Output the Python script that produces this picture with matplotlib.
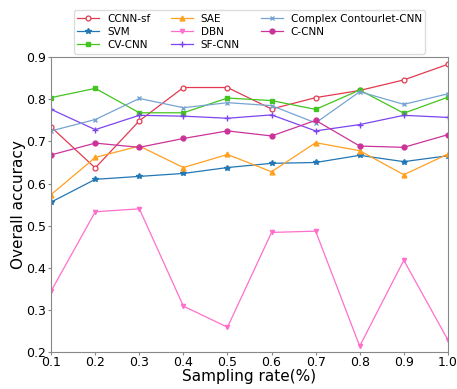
import numpy as np
import matplotlib
matplotlib.use('Agg')
import matplotlib.pyplot as plt

# Taxa de amostragem
taxas = [0.1, 0.2, 0.3, 0.4, 0.5, 0.6, 0.7, 0.8, 0.9, 1.0]
rotulos_x = ['0.1', '0.2', '0.3', '0.4', '0.5', '0.6', '0.7', '0.8', '0.9', '1.0']
ticks_y = [0.2, 0.3, 0.4, 0.5, 0.6, 0.7, 0.8, 0.9]

# Acurácia de cada modelo
ccnn_sf = [0.734, 0.637, 0.749, 0.828, 0.828, 0.777, 0.804, 0.821, 0.846, 0.883]
svm = [0.556, 0.610, 0.617, 0.624, 0.638, 0.648, 0.650, 0.667, 0.652, 0.666]
cv_cnn = [0.804, 0.826, 0.768, 0.768, 0.803, 0.797, 0.776, 0.822, 0.767, 0.805]
sae = [0.574, 0.662, 0.689, 0.638, 0.669, 0.628, 0.697, 0.678, 0.621, 0.670]
dbn = [0.345, 0.533, 0.540, 0.309, 0.259, 0.484, 0.487, 0.214, 0.418, 0.229]
sf_cnn = [0.776, 0.728, 0.762, 0.760, 0.755, 0.763, 0.725, 0.740, 0.762, 0.757]
contourlet = [0.725, 0.752, 0.802, 0.780, 0.792, 0.785, 0.744, 0.818, 0.788, 0.813]
c_cnn = [0.668, 0.696, 0.686, 0.707, 0.725, 0.713, 0.750, 0.689, 0.686, 0.716]

fig = plt.figure(figsize=(4.57, 3.89), dpi=100)
ax = fig.add_axes([0.112, 0.095, 0.868, 0.758])

ax.plot(taxas, ccnn_sf, color='#e23a50', marker='o', mfc='white', ms=3.5, mew=0.9, lw=0.9, label='CCNN-sf')
ax.plot(taxas, svm, color='#2277b4', marker='*', ms=4, lw=0.9, label='SVM')
ax.plot(taxas, cv_cnn, color='#44c41e', marker='s', ms=3, lw=0.9, label='CV-CNN')
ax.plot(taxas, sae, color='#ffa020', marker='^', ms=3.5, lw=0.9, label='SAE')
ax.plot(taxas, dbn, color='#ff6fcc', marker='v', ms=3, lw=0.9, label='DBN')
ax.plot(taxas, sf_cnn, color='#7d45ee', marker='+', ms=4.5, lw=0.9, label='SF-CNN')
ax.plot(taxas, contourlet, color='#76a4d2', marker='x', ms=3, lw=0.9, label='Complex Contourlet-CNN')
ax.plot(taxas, c_cnn, color='#cc3399', marker='o', ms=3.5, lw=0.9, label='C-CNN')

ax.set_xlim(0.1, 1.0)
ax.set_ylim(0.2, 0.9)
ax.set_xticks(taxas)
ax.set_xticklabels(rotulos_x)
ax.set_yticks(ticks_y)
ax.tick_params(labelsize=9, color='#888888', length=2)
ax.tick_params(axis='x', pad=0.8)
ax.tick_params(axis='y', pad=1.5)
for s in ax.spines.values():
    s.set_color('#888888')

ax.set_xlabel('Sampling rate(%)', fontsize=11, labelpad=0)
ax.set_ylabel('Overall accuracy', fontsize=11, labelpad=0.5)

ax.legend(ncol=3, fontsize=7.5, loc='lower center', bbox_to_anchor=(0.5, 1.0),
          handlelength=2.1, handletextpad=0.75, columnspacing=2.0, borderpad=0.35,
          labelspacing=0.3, borderaxespad=0.35, framealpha=1, edgecolor='#dddddd')

plt.savefig('out.png', dpi=100)
